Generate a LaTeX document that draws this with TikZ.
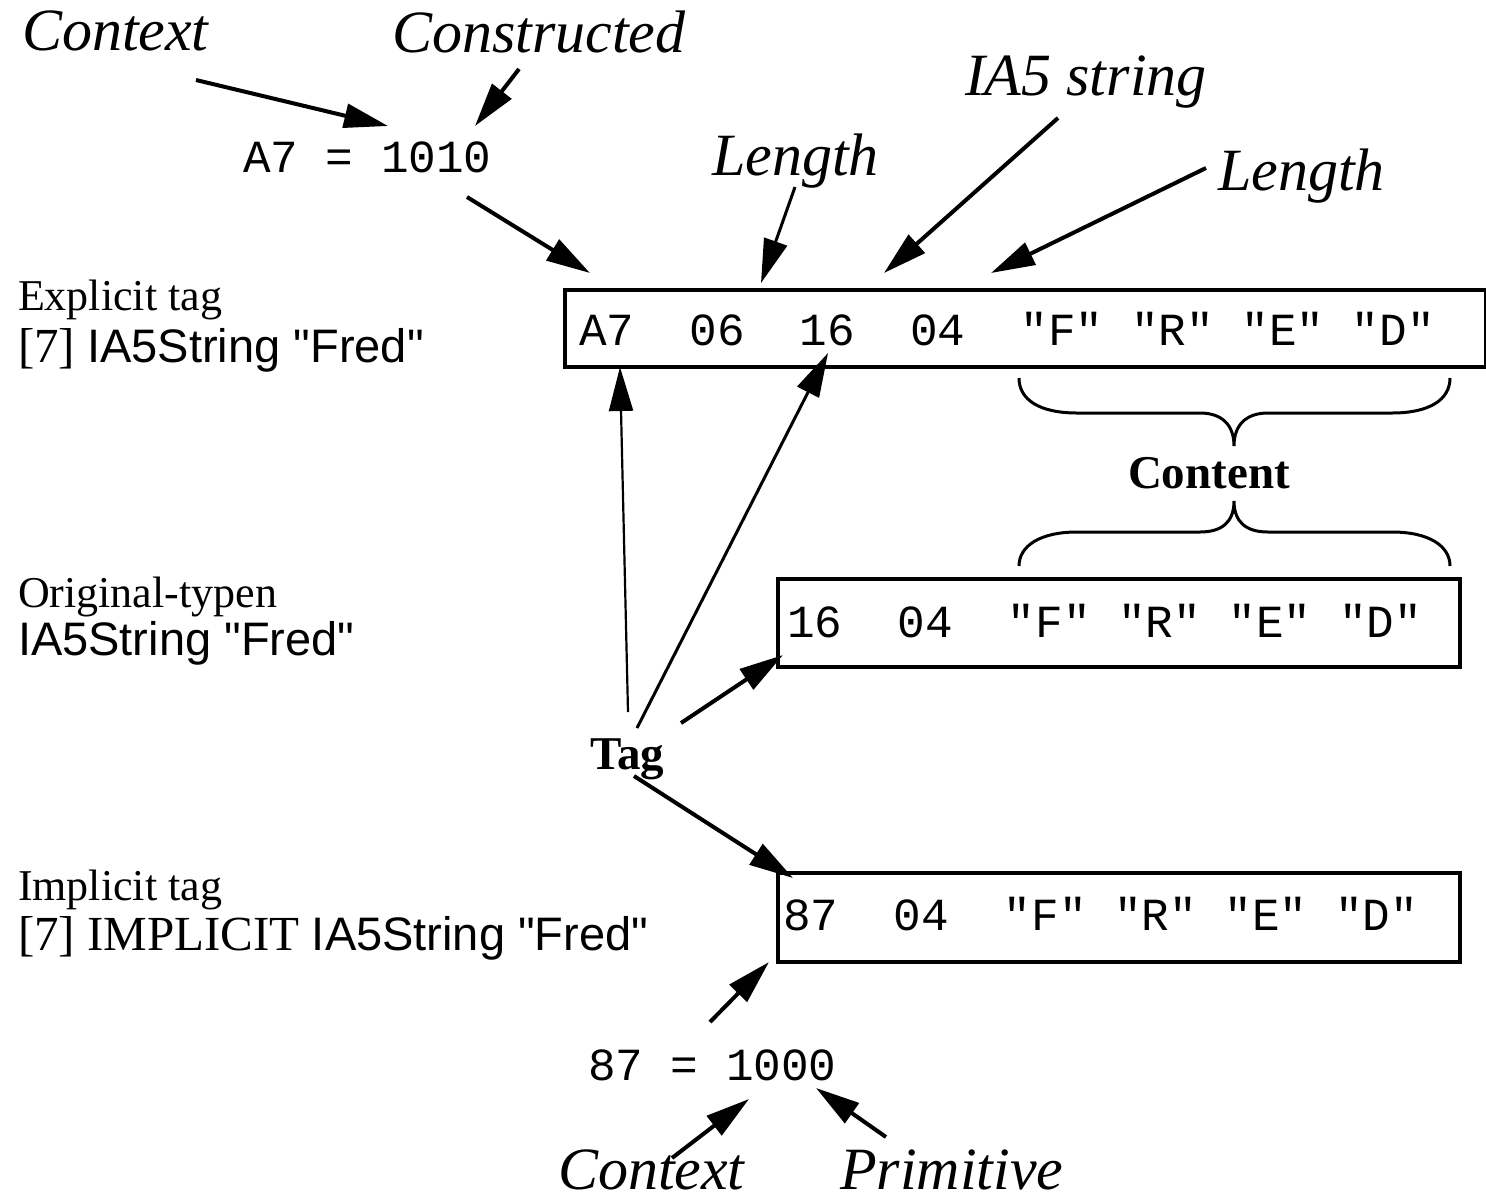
\documentclass[tikz,border=0pt]{standalone}
\usepackage{fontspec}
\setmainfont{Liberation Serif}[Ligatures=TeXOff]
\setsansfont{Liberation Sans}[Ligatures=TeXOff]
\setmonofont{Liberation Mono}
\usetikzlibrary{arrows.meta}
\begin{document}
\begin{tikzpicture}[x=1pt,y=-1pt,
  lbl/.style={inner sep=0pt, outer sep=0pt, anchor=base west},
  ital/.style={lbl, font=\fontsize{60}{60}\selectfont\itshape},
  mono/.style={lbl, font=\fontsize{46}{46}\selectfont\ttfamily},
  rom/.style={lbl, font=\fontsize{44}{44}\selectfont},
  rombig/.style={lbl, font=\fontsize{49}{49}\selectfont},
  hel/.style={lbl, font=\fontsize{47}{47}\selectfont\sffamily},
  bld/.style={lbl, font=\fontsize{47}{47}\selectfont\bfseries},
  arr/.style={-{Triangle[length=44pt,width=24pt]}, line width=4pt},
  midarr/.style={arr, line width=3pt},
  thinarr/.style={arr, line width=2.2pt},
  bytebox/.style={draw, line width=3.5pt, inner sep=0pt, anchor=north west},
  brace/.style={draw, line width=3pt}
]
\useasboundingbox (0,0) rectangle (1486,1203);

% top labels
\node[ital] (ctx1) at (22,50) {Context};
\node[ital] (cons) at (392,52) {Constructed};
\node[mono] (a7eq) at (243,172) {A7 = 1010};
\node[ital] (len1) at (712,175) {Length};
\node[ital] (ia5) at (965,95) {IA5 string};
\node[ital] (len2) at (1218,190) {Length};

% left labels
\node[rom] (expl) at (18,310) {Explicit tag};
\node[rombig] (expl2) at (18,362) {[7] {\sffamily\fontsize{47}{47}\selectfont IA5String "Fred"}};
\node[rom] (orig) at (18,607) {Original-typen};
\node[hel] (orig2) at (18,655) {IA5String "Fred"};
\node[rom] (impl) at (18,900) {Implicit tag};
\node[rombig] (impl2) at (18,950) {[7] IMPLICIT {\sffamily\fontsize{47}{47}\selectfont IA5String "Fred"}};

% boxes
\node[bytebox, minimum width=921pt, minimum height=77pt] (b1) at (563,288) {};
\node[mono] (b1t) at (579,345) {A7~~06~~16~~04~~"F"~"R"~"E"~"D"};
\node[bytebox, minimum width=682pt, minimum height=88pt] (b2) at (776,577) {};
\node[mono] (b2t) at (787,637) {16~~04~~"F"~"R"~"E"~"D"};
\node[bytebox, minimum width=682pt, minimum height=89pt] (b3) at (776,871) {};
\node[mono] (b3t) at (783,930) {87~~04~~"F"~"R"~"E"~"D"};

\node[bld] (content) at (1128,488) {Content};
\node[bld] (tag) at (590,769) {Tag};

\node[mono] (eq87) at (588,1080) {87 = 1000};
\node[ital] (ctx2) at (558,1189) {Context};
\node[ital] (prim) at (840,1189) {Primitive};

% braces
\draw[brace] (1019,378) .. controls (1019,400) and (1040,413) .. (1077,413)
  -- (1200,413) .. controls (1222,413) and (1234,425) .. (1234,446)
  .. controls (1234,425) and (1246,413) .. (1268,413)
  -- (1392,413) .. controls (1429,413) and (1450,400) .. (1450,378);
\draw[brace] (1019,566) .. controls (1019,546) and (1040,532) .. (1077,532)
  -- (1200,532) .. controls (1222,532) and (1234,522) .. (1234,501)
  .. controls (1234,522) and (1246,532) .. (1268,532)
  -- (1392,532) .. controls (1429,532) and (1450,546) .. (1450,566);

% arrow endpoints
\coordinate (p1s) at (196,80);   \coordinate (p1e) at (388,126);
\coordinate (p2s) at (519,69);   \coordinate (p2e) at (475,126);
\coordinate (p3s) at (467,197);  \coordinate (p3e) at (590,273);
\coordinate (p4s) at (795,187);  \coordinate (p4e) at (761,283);
\coordinate (p5s) at (1058,118); \coordinate (p5e) at (884,273);
\coordinate (p6s) at (1206,168); \coordinate (p6e) at (991,273);
\coordinate (p7s) at (628,712);  \coordinate (p7e) at (620,367);
\coordinate (p8s) at (637,728);  \coordinate (p8e) at (828,353);
\coordinate (p9s) at (681,723);  \coordinate (p9e) at (783,655);
\coordinate (p10s) at (634,776); \coordinate (p10e) at (793,878);
\coordinate (p11s) at (710,1022); \coordinate (p11e) at (769,962);
\coordinate (p12s) at (672,1158); \coordinate (p12e) at (749,1099);
\coordinate (p13s) at (886,1137); \coordinate (p13e) at (816,1088);

\draw[arr] (p1s) -- (p1e);
\draw[arr] (p2s) -- (p2e);
\draw[arr] (p3s) -- (p3e);
\draw[midarr] (p4s) -- (p4e);
\draw[arr] (p5s) -- (p5e);
\draw[arr] (p6s) -- (p6e);
\draw[thinarr] (p7s) -- (p7e);
\draw[midarr] (p8s) -- (p8e);
\draw[arr] (p9s) -- (p9e);
\draw[arr] (p10s) -- (p10e);
\draw[arr] (p11s) -- (p11e);
\draw[arr] (p12s) -- (p12e);
\draw[arr] (p13s) -- (p13e);
\end{tikzpicture}
\end{document}
